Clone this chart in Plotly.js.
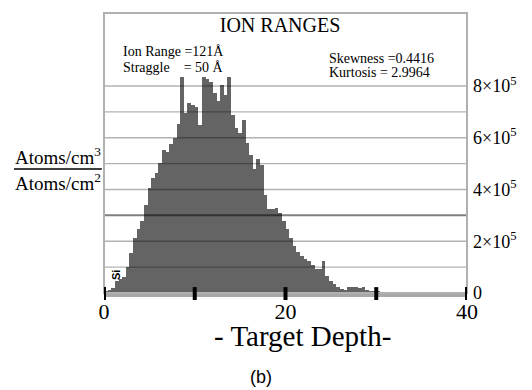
<!DOCTYPE html>
<html><head><meta charset="utf-8">
<script src="https://cdn.plot.ly/plotly-3.0.1.min.js"></script>
<style>html,body{margin:0;padding:0;background:#fff}</style>
</head><body><div id="chart" style="width:532px;height:390px"></div>
<script>
// Ion range histogram (atoms/cm3 per atoms/cm2), 0.4-unit depth bins starting at 0
const rangeCounts = [
  7700, 11600, 19300, 46300, 54100, 61800, 100400, 154400, 212400, 247100,
  278000, 339800, 405400, 444000, 463300, 501900, 552100, 544400, 575300, 598500,
  652500, 834000, 695000, 733600, 725900, 718100, 648600, 834000, 826300, 814700,
  772200, 741300, 803100, 764500, 834000, 687300, 637100, 617800, 668000, 579200,
  532800, 478800, 517400, 494200, 378400, 324300, 324300, 328200, 308900, 278000,
  247100, 212400, 181500, 158300, 142900, 131300, 123600, 108100, 92700, 92700,
  123600, 65600, 46300, 34700, 23200, 15400, 11600, 23200, 23200, 23200,
  19300, 23200, 11600, 7700, 7700, 7700, 5800, 3900, 2000, 2000,
  1000, 0, 0, 0, 0, 0, 0, 0, 0, 0,
  0, 0, 0, 0, 0, 0, 0, 0, 0, 0
];
const xTickVals = [0, 10, 20, 30, 40];
const xTickText = ["0", "", "20", "", "40"];
const yTickVals = [0, 200000, 400000, 600000, 800000];
const yTickText = ["0", "2×10<sup>5</sup>", "4×10<sup>5</sup>", "6×10<sup>5</sup>", "8×10<sup>5</sup>"];
const gridVals = [100000, 200000, 300000, 400000, 500000, 600000, 700000, 800000];
const titleText = "ION RANGES";
const statsLeft = ["Ion Range =121Å", "Straggle\u00A0\u00A0\u00A0\u00A0= 50 Å"];
const statsRight = ["Skewness =0.4416", "Kurtosis = 2.9964"];
const yLabelTop = "Atoms/cm<sup>3</sup>";
const yLabelBottom = "Atoms/cm<sup>2</sup>";
const xTitle = "- Target Depth-";
const panelLabel = "(b)";
const elementLabel = "Si";

const serif = "Liberation Serif, Times New Roman, serif";

const trace = {
  type: "bar",
  y: rangeCounts,
  x0: 0.2,
  dx: 0.4,
  marker: {color: "#646464", line: {width: 0}},
  hoverinfo: "skip"
};

const shapes = [];
gridVals.forEach(v => shapes.push({
  type: "line", xref: "paper", x0: 0, x1: 1, yref: "y", y0: v, y1: v,
  line: {color: v === 300000 ? "rgba(0,0,0,0.5)" : "rgba(0,0,0,0.3)", width: v === 300000 ? 2 : 1.4},
  layer: "above"
}));
shapes.push({type: "rect", xref: "paper", yref: "paper", x0: 0, x1: 1, y0: 0, y1: 1,
  line: {color: "#b0b0b0", width: 2}, layer: "above"});
xTickVals.forEach(v => shapes.push({
  type: "line", xref: "x", x0: v, x1: v, yref: "paper", y0: -0.025, y1: 0.021,
  line: {color: "#000", width: 4}, layer: "above"
}));
shapes.push({type: "line", xref: "paper", yref: "paper", x0: -0.248, x1: -0.006, y0: 0.443, y1: 0.443,
  line: {color: "#000", width: 1.5}});

const annotations = [
  {text: statsLeft[0], x: 0.047, y: 0.861, xanchor: "left", yanchor: "middle"},
  {text: statsLeft[1], x: 0.047, y: 0.807, xanchor: "left", yanchor: "middle"},
  {text: statsRight[0], x: 0.614, y: 0.839, xanchor: "left", yanchor: "middle"},
  {text: statsRight[1], x: 0.614, y: 0.789, xanchor: "left", yanchor: "middle"}
].map(a => Object.assign(a, {xref: "paper", yref: "paper", showarrow: false,
  font: {family: serif, size: 14, color: "#000"}}));

annotations.push({text: yLabelTop, xref: "paper", yref: "paper", x: -0.127, y: 0.49,
  xanchor: "center", yanchor: "middle", showarrow: false, font: {family: serif, size: 19, color: "#000"}});
annotations.push({text: yLabelBottom, xref: "paper", yref: "paper", x: -0.127, y: 0.395,
  xanchor: "center", yanchor: "middle", showarrow: false, font: {family: serif, size: 19, color: "#000"}});
annotations.push({text: xTitle, xref: "paper", yref: "paper", x: 0.547, y: -0.154,
  xanchor: "center", yanchor: "middle", showarrow: false, font: {family: serif, size: 29, color: "#000"}});
annotations.push({text: panelLabel, xref: "paper", yref: "paper", x: 0.432, y: -0.3,
  xanchor: "center", yanchor: "middle", showarrow: false,
  font: {family: "Liberation Sans, Arial, sans-serif", size: 18, color: "#000"}});
annotations.push({text: "<b>" + elementLabel + "</b>", xref: "paper", yref: "paper", x: 0.033, y: 0.064,
  xanchor: "center", yanchor: "middle", textangle: -90, showarrow: false,
  font: {family: "Liberation Sans, Arial, sans-serif", size: 11, color: "#000"}});

const layout = {
  width: 532, height: 390,
  margin: {l: 104, r: 65, t: 13, b: 97, pad: 0},
  paper_bgcolor: "#fff", plot_bgcolor: "#fff",
  showlegend: false,
  bargap: 0,
  title: {text: titleText, font: {family: serif, size: 20, color: "#000"},
    xref: "paper", x: 0.485, xanchor: "center", yref: "container", y: 0.935, yanchor: "middle"},
  xaxis: {
    range: [0, 40], tickmode: "array", tickvals: xTickVals, ticktext: xTickText,
    ticks: "", showgrid: false, zeroline: false,
    showline: true, linecolor: "#a8a8a8", linewidth: 4,
    tickfont: {family: serif, size: 22, color: "#000"}, ticklabelstandoff: -4
  },
  yaxis: {
    range: [0, 1082000], side: "right", tickmode: "array", tickvals: yTickVals, ticktext: yTickText,
    ticks: "", showgrid: false, zeroline: false, showline: false,
    tickfont: {family: serif, size: 18, color: "#000"}, ticklabelstandoff: 5
  },
  shapes: shapes,
  annotations: annotations
};

Plotly.newPlot("chart", [trace], layout, {displayModeBar: false, staticPlot: true});
</script>
</body></html>
